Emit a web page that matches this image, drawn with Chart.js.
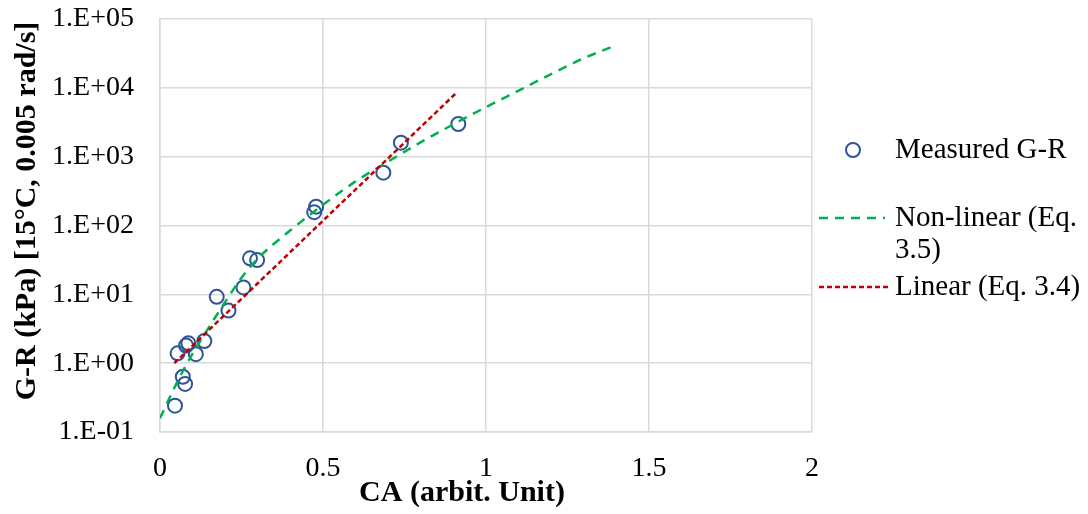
<!DOCTYPE html>
<html><head><meta charset="utf-8">
<script src="https://cdn.jsdelivr.net/npm/chart.js@4.4.1/dist/chart.umd.min.js"></script>
<style>html,body{margin:0;padding:0;background:#fff;}canvas{display:block;}</style>
</head><body>
<canvas id="c" width="1088" height="514"></canvas>
<script>
// ---- data ----
const measuredCA = [0.479, 0.473, 0.276, 0.298, 0.256, 0.174, 0.210, 0.136, 0.087, 0.080, 0.054, 0.110, 0.070, 0.077, 0.046, 0.739, 0.685, 0.915];
const measuredGR = [188, 156, 33.4, 31.5, 12.6, 9.2, 5.8, 2.10, 1.94, 1.80, 1.39, 1.35, 0.635, 0.50, 0.241, 1595, 585, 2985];
const nonlinearCA = [0, 0.05, 0.1, 0.15, 0.2, 0.25, 0.3, 0.4, 0.5, 0.6, 0.7, 0.8, 0.9, 1.0, 1.1, 1.2, 1.3, 1.4];
const nonlinearGR = [0.158, 0.501, 1.38, 3.31, 7.76, 17.4, 33.1, 85.1, 200, 437, 851, 1622, 2951, 5248, 9120, 15850, 26920, 41690];
const linearCA = [0.044, 0.3, 0.6, 0.907];
const linearGR = [1.0, 14.5, 334, 8280];
const xTickValues = [0, 0.5, 1, 1.5, 2];
const xTickLabels = ['0', '0.5', '1', '1.5', '2'];
const yTickValues = [0.1, 1, 10, 100, 1000, 10000, 100000];
const yTickLabels = ['1.E-01', '1.E+00', '1.E+01', '1.E+02', '1.E+03', '1.E+04', '1.E+05'];
const seriesNames = ['Measured G-R', ['Non-linear (Eq.', '3.5)'], 'Linear (Eq. 3.4)'];
const xTitle = 'CA (arbit. Unit)';
const yTitle = 'G-R (kPa) [15°C, 0.005 rad/s]';

const toPts = (xs, ys) => xs.map((x, i) => ({x: x, y: ys[i]}));
const FONT = 'Liberation Serif, Times New Roman, serif';

const titlesAndLegend = {
  id: 'titlesAndLegend',
  afterDraw(chart) {
    const ctx = chart.ctx;
    const a = chart.chartArea;
    ctx.save();
    ctx.fillStyle = '#000';
    // axis titles
    ctx.font = 'bold 30px ' + FONT;
    ctx.textAlign = 'center';
    ctx.textBaseline = 'alphabetic';
    ctx.fillText(xTitle, 462, 501);
    ctx.save();
    ctx.translate(35, 211);
    ctx.rotate(-Math.PI / 2);
    ctx.fillText(yTitle, 0, 0);
    ctx.restore();
    // legend
    ctx.font = '29px ' + FONT;
    ctx.textAlign = 'left';
    ctx.textBaseline = 'middle';
    const ds = chart.data.datasets;
    const textX = a.right + 83;
    const rows = [150, 218, 287];
    ds.forEach((d, i) => {
      const y = rows[i];
      ctx.save();
      ctx.strokeStyle = d.borderColor;
      ctx.lineWidth = d.borderWidth;
      if (d.showLine) {
        ctx.setLineDash(d.borderDash || []);
        ctx.beginPath();
        ctx.moveTo(a.right + 7, y);
        ctx.lineTo(a.right + (i === 1 ? 73 : 76), y);
        ctx.stroke();
      } else {
        ctx.beginPath();
        ctx.arc(a.right + 41, y, d.pointRadius, 0, Math.PI * 2);
        ctx.stroke();
      }
      ctx.restore();
      const lbl = seriesNames[i];
      const lines = Array.isArray(lbl) ? lbl : [lbl];
      lines.forEach((t, k) => ctx.fillText(t, textX, y + k * 32));
    });
    ctx.restore();
  }
};

new Chart(document.getElementById('c'), {
  type: 'scatter',
  data: {
    datasets: [
      {
        label: 'Measured G-R',
        data: toPts(measuredCA, measuredGR),
        showLine: false,
        pointStyle: 'circle',
        pointRadius: 7,
        borderWidth: 2,
        borderColor: '#2f5597',
        backgroundColor: 'rgba(0,0,0,0)',
        order: 3
      },
      {
        label: 'Non-linear (Eq. 3.5)',
        data: toPts(nonlinearCA, nonlinearGR),
        showLine: true,
        pointRadius: 0,
        borderColor: '#00b050',
        borderWidth: 2.5,
        borderDash: [9, 7],
        cubicInterpolationMode: 'monotone',
        fill: false,
        order: 2
      },
      {
        label: 'Linear (Eq. 3.4)',
        data: toPts(linearCA, linearGR),
        showLine: true,
        pointRadius: 0,
        borderColor: '#c00000',
        borderWidth: 2.5,
        borderDash: [5, 3],
        fill: false,
        order: 1
      }
    ]
  },
  options: {
    responsive: false,
    animation: false,
    events: [],
    layout: {padding: {top: 19, right: 276, bottom: 0, left: 0}},
    plugins: {legend: {display: false}, tooltip: {enabled: false}},
    scales: {
      x: {
        type: 'linear',
        min: 0, max: 2,
        afterBuildTicks: s => { s.ticks = xTickValues.map(v => ({value: v})); },
        afterFit: s => { s.height = 82; },
        grid: {color: '#d9d9d9', lineWidth: 1.5, drawTicks: false},
        border: {display: true, color: '#d9d9d9', width: 1.5},
        ticks: {
          padding: 20,
          color: '#000',
          font: {family: FONT, size: 28},
          maxRotation: 0,
          callback: (v, i) => xTickLabels[i]
        }
      },
      y: {
        type: 'logarithmic',
        min: 0.1, max: 100000,
        afterBuildTicks: s => { s.ticks = yTickValues.map(v => ({value: v})); },
        afterFit: s => { s.width = 160; },
        grid: {color: '#d9d9d9', lineWidth: 1.5, drawTicks: true, tickLength: 26, tickColor: 'rgba(0,0,0,0)'},
        border: {display: true, color: '#d9d9d9', width: 1.5},
        ticks: {
          padding: 0,
          color: '#000',
          font: {family: FONT, size: 28},
          callback: (v, i) => yTickLabels[i]
        }
      }
    }
  },
  plugins: [titlesAndLegend]
});
</script>
</body></html>
